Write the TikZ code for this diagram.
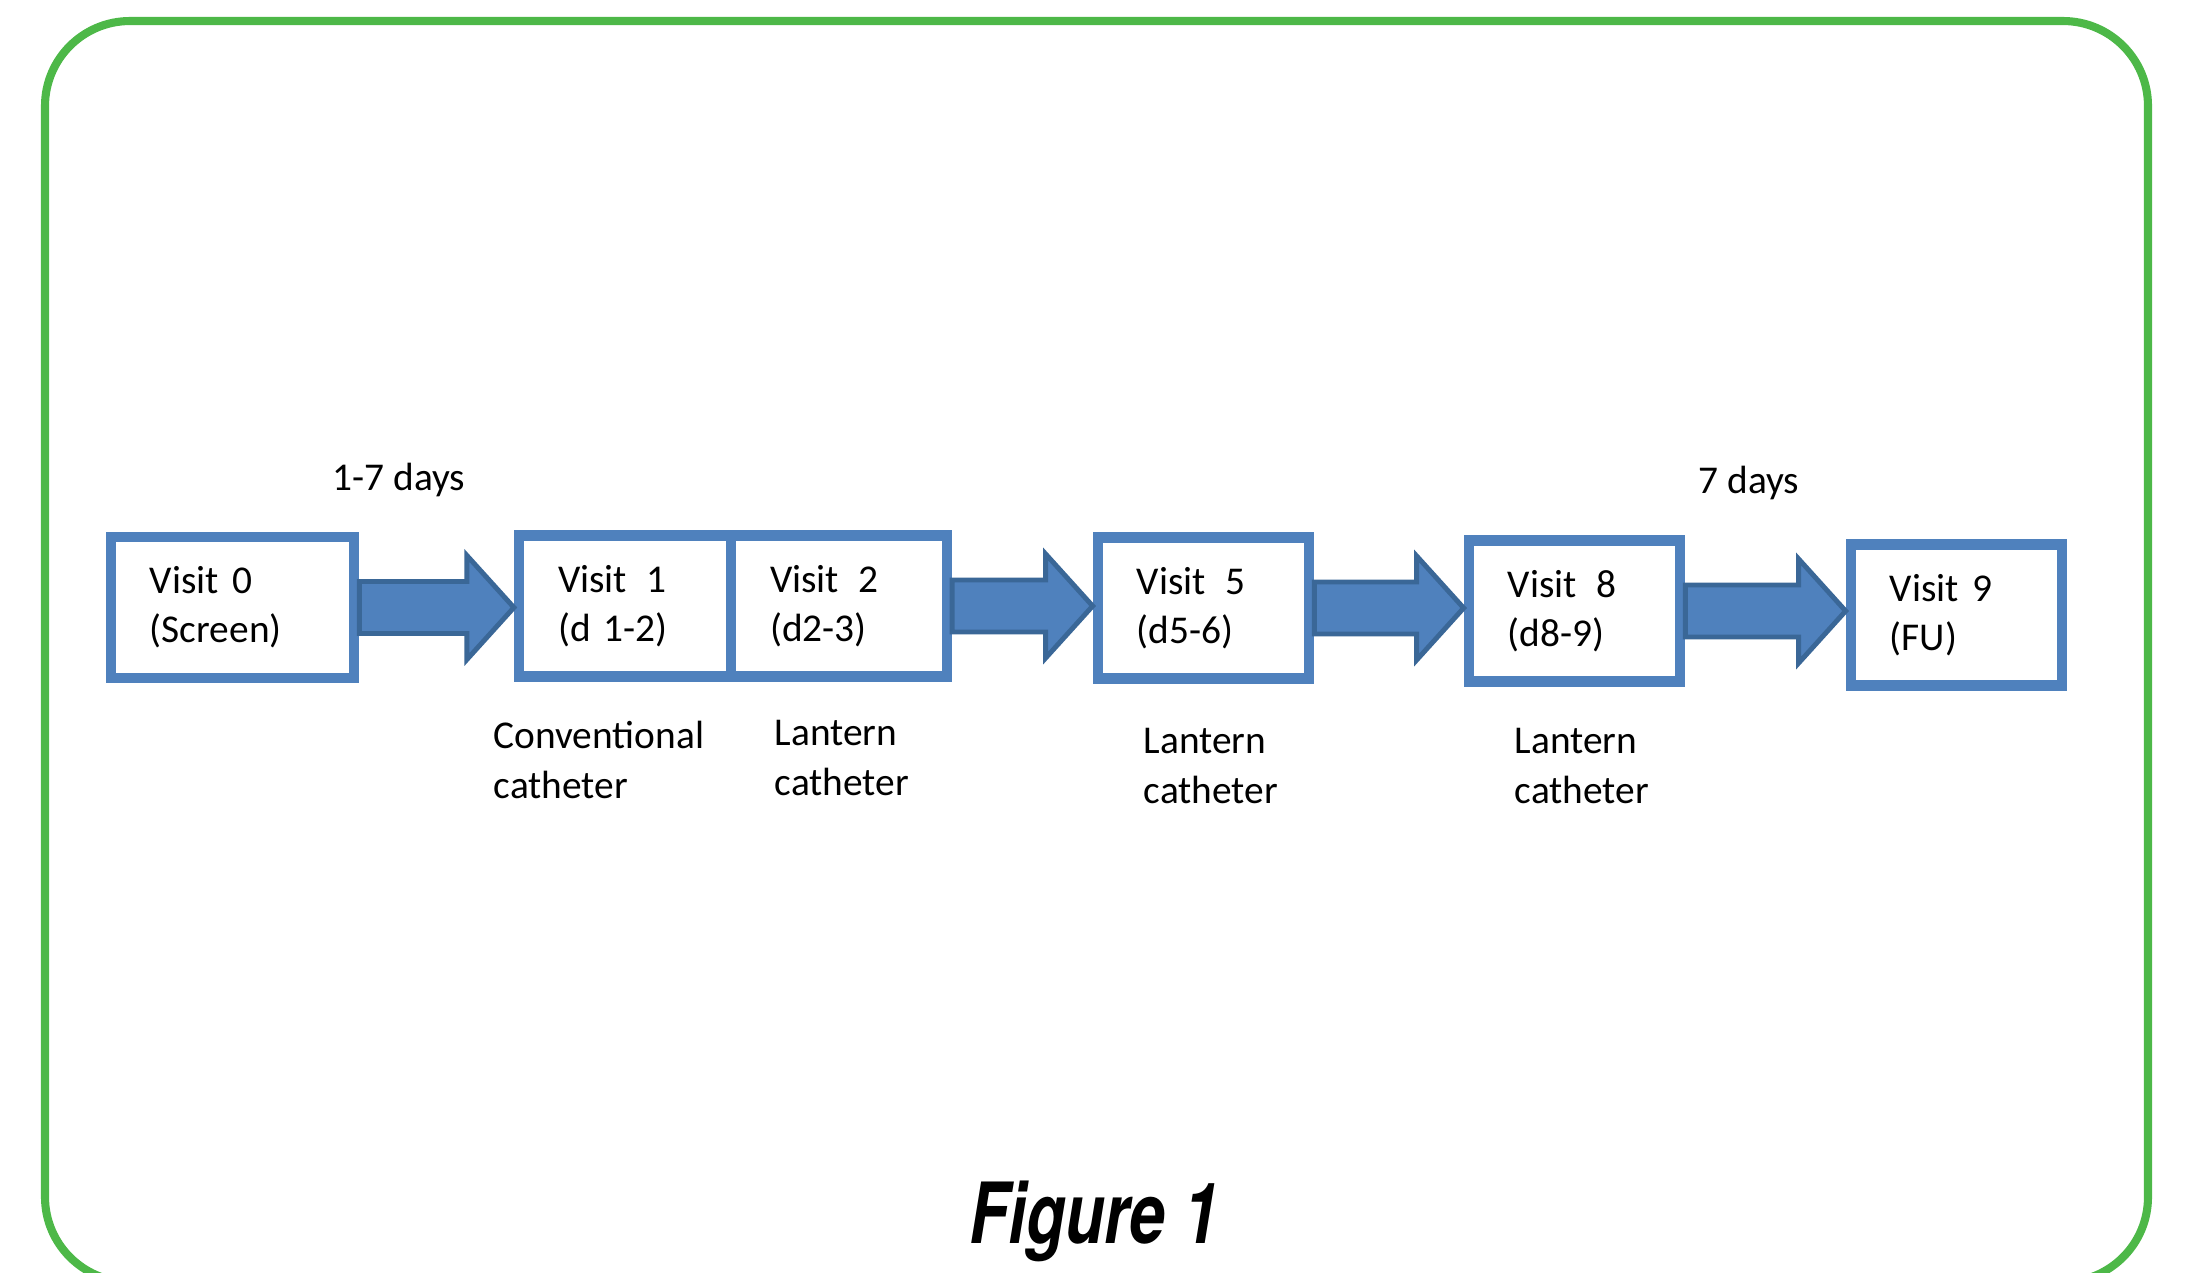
\documentclass[tikz,border=0pt]{standalone}
\usepackage{fontspec}
\usepackage{graphicx}
\setmainfont{Carlito}
\newfontfamily\figfont{TeX Gyre Heros}
\usetikzlibrary{calc}
\definecolor{bleu}{HTML}{4F81BD}
\definecolor{bleufonce}{HTML}{3A6797}
\definecolor{vert}{HTML}{4DB848}
\begin{document}
\begin{tikzpicture}[x=0.01cm,y=-0.01cm]
% Dimensions (MODIFIABLES)
\def\DemiTige{0.26cm}
\def\DemiTete{0.52cm}
\def\LongTete{0.47cm}
% Styles (MODIFIABLES)
\tikzstyle{cadre}=[draw=vert,line width=2.3pt,rounded corners=0.85cm]
\tikzstyle{visite}=[draw=bleu,fill=white,line width=3pt,minimum height=1.41cm,inner xsep=0.39cm,align=left,font=\fontsize{11.2}{14}\selectfont]
\tikzstyle{etiquette}=[anchor=west,inner sep=0pt,align=left,font=\fontsize{11.2}{14}\selectfont]
\tikzstyle{fleche}=[draw=bleufonce,fill=bleu,line width=1.4pt,
  to path={let \p1=(\tikztostart),\p2=(\tikztotarget) in
    (\x1,{\y1+\DemiTige}) -- ({\x2-\LongTete},{\y1+\DemiTige}) -- ({\x2-\LongTete},{\y1+\DemiTete})
    -- (\x2,\y1) -- ({\x2-\LongTete},{\y1-\DemiTete}) -- ({\x2-\LongTete},{\y1-\DemiTige})
    -- (\x1,{\y1-\DemiTige}) -- cycle}]
% Cadre
\useasboundingbox (0,0) rectangle (2208,1272);
\clip (0,0) rectangle (2208,1272);
\draw[cadre] (45,21) rectangle (2148,1282);
% Noeuds (MODIFIABLES)
\node[visite,text width=1.65cm] (V0) at (232.5,607.5) {Visit 0\\(Screen)};
\node[visite,text width=1.335cm] (V1) at (625,606) {Visit~\,1\\(d 1-2)};
\node[visite,text width=1.375cm] (V2) at (839,606) {Visit~\,2\\(d2-3)};
\node[visite,text width=1.33cm] (V5) at (1203.5,608) {Visit~\,5\\(d5-6)};
\node[visite,text width=1.33cm] (V8) at (1574.5,611) {Visit~\,8\\(d8-9)};
\node[visite,text width=1.33cm] (V9) at (1956.5,615) {Visit 9\\(FU)};
% Etiquettes
\node[etiquette] (J17) at (332,480) {1-7 days};
\node[etiquette] (J7) at (1698,483) {7 days};
\node[etiquette] (C1) at (493,760) {Conventional\\catheter};
\node[etiquette] (C2) at (774,758) {Lantern\\catheter};
\node[etiquette] (C5) at (1143,766) {Lantern\\catheter};
\node[etiquette] (C8) at (1514,766) {Lantern\\catheter};
\node (Titre) at (1094,1221) {\figfont\fontsize{24}{28}\selectfont\bfseries\itshape\scalebox{0.76}[1]{Figure 1}};
% Fleches (MODIFIABLES : Styles)
\draw[fleche] (V0.east) to (V1.west);
\draw[fleche] (V2.east) to (V5.west);
\draw[fleche] (V5.east) to (V8.west);
\draw[fleche] (V8.east) to (V9.west);
\end{tikzpicture}
\end{document}
